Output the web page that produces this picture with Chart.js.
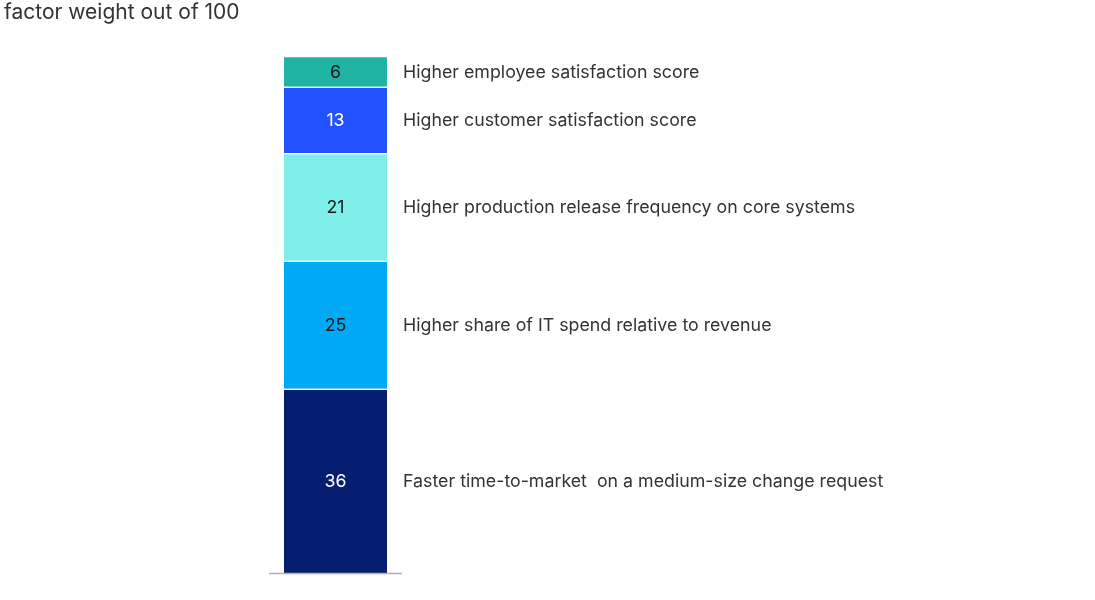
<!DOCTYPE html>
<html>
<head>
<meta charset="utf-8">
<script src="https://cdn.jsdelivr.net/npm/chart.js@4"></script>
<style>
  html, body { margin: 0; padding: 0; background: #fff; }
  #wrap { width: 1095px; height: 600px; position: relative; }
</style>
</head>
<body>
<div id="wrap"><canvas id="myChart" width="1095" height="600"></canvas></div>
<script>
// factors, bottom to top
const factors = [
  "Faster time-to-market  on a medium-size change request",
  "Higher share of IT spend relative to revenue",
  "Higher production release frequency on core systems",
  "Higher customer satisfaction score",
  "Higher employee satisfaction score"
];
const weights = [36, 25, 21, 13, 6];
const colors = ["#061e72", "#00a9f4", "#7deee8", "#2251ff", "#1eb3a2"];
const valueColors = ["#ffffff", "#1a1a1a", "#1a1a1a", "#ffffff", "#1a1a1a"];
const title = "factor weight out of 100";

const FONT = "Inter, 'Liberation Sans', Arial, sans-serif";

const labelPlugin = {
  id: "labels",
  afterDatasetsDraw(chart) {
    const ctx = chart.ctx;
    const area = chart.chartArea;
    ctx.save();
    // title
    ctx.font = "21px " + FONT;
    ctx.fillStyle = "#333333";
    ctx.textAlign = "left";
    ctx.textBaseline = "middle";
    ctx.fillText(title, 4, 13);

    chart.data.datasets.forEach((ds, i) => {
      const bar = chart.getDatasetMeta(i).data[0];
      const yMid = (bar.y + bar.base) / 2;
      ctx.font = "17.8px " + FONT;
      ctx.textAlign = "center";
      ctx.fillStyle = valueColors[i];
      ctx.fillText(String(ds.data[0]), bar.x, yMid + 1);
      ctx.textAlign = "left";
      ctx.fillStyle = "#333333";
      ctx.fillText(ds.label, area.right + 1, yMid + 1);
    });

    // baseline
    ctx.strokeStyle = "#b0b0b0";
    ctx.lineWidth = 1.5;
    ctx.beginPath();
    ctx.moveTo(area.left, area.bottom + 0.5);
    ctx.lineTo(area.right, area.bottom + 0.5);
    ctx.stroke();
    ctx.restore();
  }
};

const ctx = document.getElementById("myChart").getContext("2d");
const myChart = new Chart(ctx, {
  type: "bar",
  data: {
    labels: [""],
    datasets: weights.map((w, i) => ({
      label: factors[i],
      data: [w],
      backgroundColor: colors[i],
      borderColor: "#ffffff",
      borderWidth: { top: 1.5 },
      borderSkipped: false,
      barThickness: 103
    }))
  },
  options: {
    responsive: false,
    animation: false,
    layout: { padding: { left: 269, right: 693, top: 56, bottom: 27 } },
    plugins: {
      legend: { display: false },
      tooltip: { enabled: false }
    },
    scales: {
      x: { stacked: true, display: false },
      y: { stacked: true, display: false, min: 0, max: weights.reduce((a, b) => a + b, 0) }
    }
  },
  plugins: [labelPlugin]
});
</script>
</body>
</html>
